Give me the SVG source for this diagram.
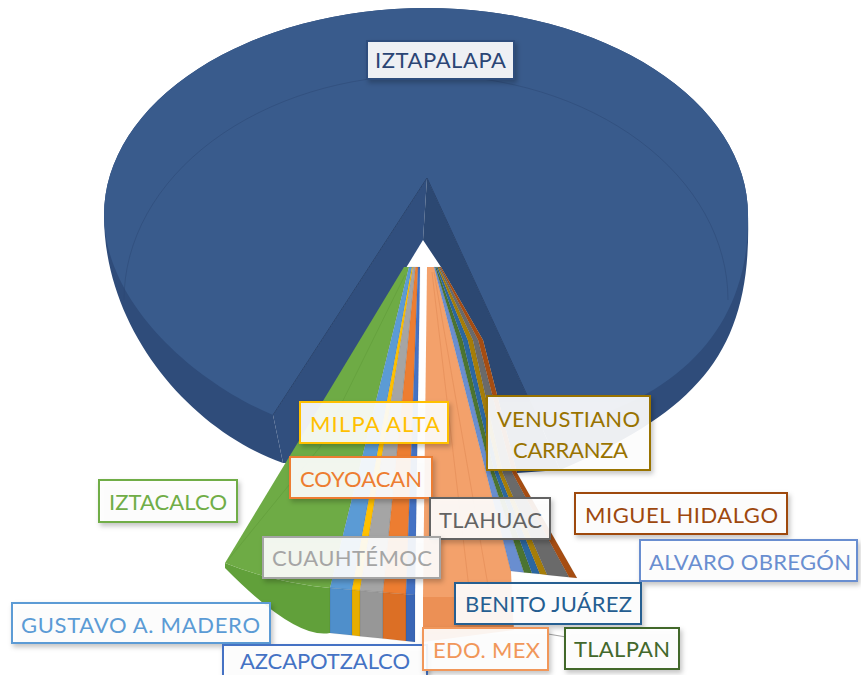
<svg xmlns="http://www.w3.org/2000/svg" width="861" height="675" viewBox="0 0 861 675">
<defs>
<filter id="sh" x="-10%" y="-20%" width="130%" height="160%">
<feDropShadow dx="2" dy="3" stdDeviation="2.5" flood-color="#000" flood-opacity="0.25"/>
</filter>
<style>
.lbl rect{fill:#fff;fill-opacity:0.9;stroke-width:2;filter:url(#sh)}
.lbl text{font-family:Lato,"Open Sans","Liberation Sans",sans-serif;font-size:22px}
.st{stroke:#000;stroke-opacity:0.12;stroke-width:0.6}
.edge{fill:none;stroke:#2a446d;stroke-width:1}
</style>
</defs>
<rect width="861" height="675" fill="#fff"/>

<g id="slice-iztapalapa">
<path d="M283,463 C190,430 104,330 104,215 A322,207 0 0 1 748,215 C752,350 700,410 560,470 L543,430 L427,178 L273,415 Z" fill="#2f4c7a"/>
<path d="M427,178 L273,415 C190,380 104,300 104,215 A322,207 0 0 1 748,215 C750,330 675,405 543,430 Z" fill="#395b8c"/>
<path d="M124,300 A302,225 0 1 1 728,300" fill="none" stroke="#2a4470" stroke-opacity="0.45" stroke-width="1"/>
<polygon points="427,178 273,415 283,463 287,463 423,240" fill="#314f7e"/>
<polygon points="427,178 543,430 560,470 517,473 483,340 441,267 423,240" fill="#2c4872"/>
<path class="edge" d="M273,415 L427,178 L543,430"/>
</g>

<g id="slice-iztacalco">
<path d="M225,563 Q272,582 330,588 L330,633 Q296,640 225,568 Z" fill="#61a03a"/>
<path d="M404,267 L409,267 L330,588 Q272,582 225,563 Z" fill="#6eab45"/>
<path d="M405,275 L320,447 L228,560" fill="none" stroke="#4f8a2c" stroke-opacity="0.35" stroke-width="0.8"/>
</g>
<g id="slice-gustavo">
<polygon class="st" points="409,267 412,267 352,589.8 330,588" fill="#5b9bd5"/>
<polygon class="st" points="330,588 352,589.8 352,635.3 330,633" fill="#4f8fcb"/>
</g>
<g id="slice-milpa">
<polygon class="st" points="412,267 413,267 360,590.5 352,589.8" fill="#ffc000"/>
<polygon class="st" points="352,589.8 360,590.5 360,636.2 352,635.3" fill="#e6ad00"/>
</g>
<g id="slice-cuauhtemoc">
<polygon class="st" points="413,267 415.5,267 383,592.4 360,590.5" fill="#a5a5a5"/>
<polygon class="st" points="360,590.5 383,592.4 383,638.6 360,636.2" fill="#979797"/>
</g>
<g id="slice-coyoacan">
<polygon class="st" points="415.5,267 418,267 406,594.3 383,592.4" fill="#ed7d31"/>
<polygon class="st" points="383,592.4 406,594.3 406,641 383,638.6" fill="#dc6f25"/>
</g>
<g id="slice-azcapotzalco">
<polygon class="st" points="418,267 420,267 415,594.9 406,594.3" fill="#4472c4"/>
<polygon class="st" points="406,594.3 415,594.9 415,642 406,641" fill="#3a66b5"/>
</g>
<g id="slice-edomex">
<polygon points="423,597 512,597 514,630 423,642" fill="#ec9055"/>
<polygon points="427,267 434,267 511,571 512,597 423,597" fill="#f3a16b"/>
<path d="M432,272 L470,597 M434,272 L490,597" fill="none" stroke="#d9804a" stroke-opacity="0.5" stroke-width="0.8"/>
</g>
<g id="slice-alvaro">
<polygon class="st" points="434,267 452.5,340 486.2,473 510.8,571 524,572.4 490.8,473 457.7,340 435.2,267" fill="#698ed0"/>
</g>
<g id="slice-tlalpan">
<polygon class="st" points="435.2,267 457.7,340 490.8,473 524,572.4 532,573.2 494.8,473 462.6,340 436.3,267" fill="#4b7431"/>
</g>
<g id="slice-benito">
<polygon class="st" points="436.3,267 462.6,340 494.8,473 532,573.2 539.9,574.1 498.8,473 467.8,340 437.5,267" fill="#2b67a0"/>
</g>
<g id="slice-venustiano">
<polygon class="st" points="437.5,267 467.8,340 498.8,473 539.9,574.1 547.2,574.9 502.8,473 472.9,340 438.7,267" fill="#a67d08"/>
</g>
<g id="slice-tlahuac">
<polygon class="st" points="438.7,267 472.9,340 502.8,473 547.2,574.9 569.1,577.2 512.4,473 478.1,340 439.9,267" fill="#6a6a6a"/>
</g>
<g id="slice-miguel">
<polygon class="st" points="439.9,267 478.1,340 512.4,473 569.1,577.2 577,578 517,473 483,340 441,267" fill="#a64d12"/>
</g>

<g id="connectors">
<path d="M548,634 L566,637" fill="none" stroke="#a5a5a5" stroke-width="1.2"/>
</g>

<g id="label-iztapalapa" class="lbl">
<rect x="367" y="41" width="147" height="38" stroke="#2f4d7d"/>
<text x="375" y="68" textLength="131" fill="#2b4575">IZTAPALAPA</text>
</g>
<g id="label-milpa" class="lbl">
<rect x="300" y="402" width="148" height="41" stroke="#ffc000"/>
<text x="310" y="432" textLength="130" fill="#ffc000">MILPA ALTA</text>
</g>
<g id="label-venustiano" class="lbl">
<rect x="487" y="396" width="163" height="74" stroke="#997300"/>
<text x="497" y="427" textLength="143" fill="#997300">VENUSTIANO</text>
<text x="513" y="458" textLength="115" fill="#997300">CARRANZA</text>
</g>
<g id="label-coyoacan" class="lbl">
<rect x="290" y="457" width="142" height="41" stroke="#ed7d31"/>
<text x="300" y="487" textLength="122" fill="#ed7d31">COYOACAN</text>
</g>
<g id="label-iztacalco" class="lbl">
<rect x="99" y="480" width="138" height="42" stroke="#70ad47"/>
<text x="109" y="510" textLength="118" fill="#70ad47">IZTACALCO</text>
</g>
<g id="label-tlahuac" class="lbl">
<rect x="430" y="498" width="120" height="41" stroke="#636363"/>
<text x="439" y="528" textLength="103" fill="#636363">TLAHUAC</text>
</g>
<g id="label-miguel" class="lbl">
<rect x="575" y="493" width="212" height="41" stroke="#9e480e"/>
<text x="585" y="523" textLength="193" fill="#9e480e">MIGUEL HIDALGO</text>
</g>
<g id="label-cuauhtemoc" class="lbl">
<rect x="263" y="537" width="177" height="41" stroke="#a5a5a5"/>
<text x="272" y="566" textLength="160" fill="#a5a5a5">CUAUHTÉMOC</text>
</g>
<g id="label-alvaro" class="lbl">
<rect x="640" y="540" width="217" height="41" stroke="#698ed0"/>
<text x="649" y="570" textLength="202" fill="#698ed0">ALVARO OBREGÓN</text>
</g>
<g id="label-gustavo" class="lbl">
<rect x="12" y="603" width="258" height="40" stroke="#5b9bd5"/>
<text x="21" y="633" textLength="239" fill="#5b9bd5">GUSTAVO A. MADERO</text>
</g>
<g id="label-benito" class="lbl">
<rect x="455" y="583" width="186" height="41" stroke="#255e91"/>
<text x="465" y="612" textLength="167" fill="#255e91">BENITO JUÁREZ</text>
</g>
<g id="label-azcapotzalco" class="lbl">
<rect x="223" y="645" width="204" height="42" stroke="#4472c4"/>
<text x="240" y="669" textLength="170" fill="#4472c4">AZCAPOTZALCO</text>
</g>
<g id="label-edomex" class="lbl">
<rect x="423" y="628" width="125" height="42" stroke="#f1975a"/>
<text x="433" y="658" textLength="107" fill="#f1975a">EDO. MEX</text>
</g>
<g id="label-tlalpan" class="lbl">
<rect x="565" y="628" width="114" height="41" stroke="#43682b"/>
<text x="574" y="657" textLength="96" fill="#43682b">TLALPAN</text>
</g>
</svg>
